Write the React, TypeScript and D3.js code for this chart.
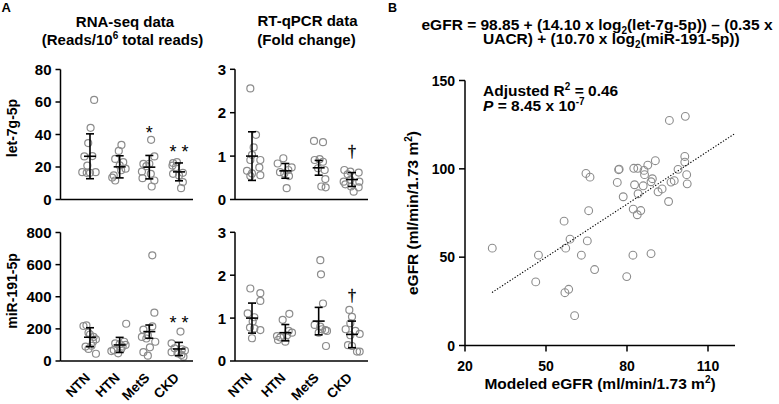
import React from "react";
import * as d3 from "d3";

const categories = ["NTN", "HTN", "MetS", "CKD"];

// Each point: [jitter offset as a fraction of category step, value]
const rnaLet7: [number, number][][] = [
  [[0.14, 61.3], [0.02, 44.1], [-0.06, 34.7], [-0.19, 26.5], [0.08, 26.7], [-0.09, 20.9], [-0.26, 16.8], [-0.11, 16.4], [0.0, 16.4], [0.19, 16.8]],
  [[0.06, 33.6], [-0.03, 29.9], [-0.15, 25.0], [0.12, 23.0], [0.2, 19.0], [0.05, 18.0], [-0.2, 14.8], [-0.25, 13.5], [-0.15, 11.7], [0.0, 21.0]],
  [[0.06, 36.7], [0.17, 26.5], [-0.2, 21.9], [-0.1, 20.5], [0.0, 22.0], [-0.25, 17.2], [0.05, 15.8], [-0.23, 13.1], [0.17, 11.7], [0.08, 8.0]],
  [[-0.2, 22.4], [-0.07, 23.0], [-0.22, 20.9], [-0.1, 20.0], [-0.2, 15.8], [0.13, 16.4], [0.0, 14.8], [0.13, 10.7], [0.07, 7.0]],
];
const rnaLet7Mean = [26.6, 20.1, 19.9, 17.0];
const rnaLet7SD = [13.8, 6.8, 7.2, 5.5];

const rnaMiR: [number, number][][] = [
  [[-0.22, 218], [-0.12, 222], [-0.05, 176], [0.12, 150], [0.2, 135], [-0.15, 90], [0.05, 95], [0.2, 45], [-0.05, 75], [0.1, 120], [0.0, 165]],
  [[0.22, 232], [-0.15, 110], [0.0, 105], [0.15, 120], [-0.2, 68], [-0.05, 48], [0.1, 90], [-0.28, 62], [0.05, 75], [0.2, 100]],
  [[0.1, 658], [0.17, 301], [0.1, 215], [-0.2, 195], [-0.25, 150], [-0.1, 140], [0.2, 120], [-0.05, 160], [-0.2, 55], [-0.05, 33], [0.02, 85]],
  [[0.05, 183], [-0.25, 110], [-0.15, 79], [0.1, 73], [-0.05, 48], [0.08, 38], [-0.25, 55], [0.15, 27], [0.2, 65]],
];
const rnaMiRMean = [148, 100, 183, 75];
const rnaMiRSD = [59, 47, 41, 41];

const pcrLet7: [number, number][][] = [
  [[-0.05, 2.56], [0.12, 1.49], [0.05, 1.2], [0.0, 1.03], [0.25, 0.91], [-0.05, 0.91], [0.22, 0.74], [-0.15, 0.66], [0.0, 0.6], [0.25, 0.56], [-0.05, 0.54]],
  [[-0.06, 0.95], [-0.23, 0.83], [0.19, 0.74], [0.09, 0.68], [-0.16, 0.63], [-0.03, 0.6], [0.11, 0.54], [0.04, 0.26]],
  [[-0.14, 1.35], [0.13, 1.32], [-0.12, 0.91], [0.03, 0.93], [0.13, 0.87], [0.18, 0.68], [-0.02, 0.72], [0.2, 0.47], [0.08, 0.3], [0.21, 0.28]],
  [[-0.23, 0.68], [-0.05, 0.64], [-0.13, 0.58], [0.2, 0.62], [-0.25, 0.41], [-0.05, 0.45], [0.22, 0.41], [-0.03, 0.3], [0.05, 0.18], [0.2, 0.28], [-0.2, 0.35]],
];
const pcrLet7Mean = [1.0, 0.66, 0.73, 0.46];
const pcrLet7SD = [0.56, 0.17, 0.17, 0.16];

const pcrMiR: [number, number][][] = [
  [[-0.05, 1.69], [0.25, 1.58], [0.25, 1.4], [-0.13, 1.11], [0.07, 1.02], [0.02, 0.92], [-0.06, 0.78], [0.07, 0.76], [0.25, 0.72], [0.0, 0.53]],
  [[0.12, 1.1], [-0.08, 0.96], [0.2, 0.66], [-0.25, 0.58], [-0.22, 0.49], [0.05, 0.6], [0.0, 0.45], [-0.15, 0.55], [0.1, 0.7]],
  [[0.05, 2.35], [0.07, 2.02], [0.13, 1.34], [-0.12, 0.84], [0.05, 0.8], [0.2, 0.72], [0.0, 0.66], [0.1, 0.74], [0.25, 0.7], [0.22, 0.35]],
  [[-0.08, 1.19], [0.0, 1.03], [-0.05, 0.88], [-0.19, 0.74], [0.23, 0.63], [0.1, 0.7], [-0.05, 0.6], [-0.12, 0.37], [0.0, 0.35], [0.15, 0.22], [0.23, 0.22]],
];
const pcrMiRMean = [1.0, 0.66, 0.93, 0.62];
const pcrMiRSD = [0.35, 0.19, 0.32, 0.31];

const rnaLet7Ticks = [0, 20, 40, 60, 80];
const rnaMiRTicks = [0, 200, 400, 600, 800];
const pcrTicks = [0, 1, 2, 3];

// significance marks: [category, value at glyph centre, glyph]
type Mark = [string, number, string];
const rnaLet7Marks: Mark[] = [["MetS", 43.5, "*"], ["CKD", 32, "* *"]];
const rnaMiRMarks: Mark[] = [["CKD", 266, "* *"]];
const pcrLet7Marks: Mark[] = [["CKD", 1.08, "†"]];
const pcrMiRMarks: Mark[] = [["CKD", 1.52, "†"]];

const modeledEGFR = [30.1, 46.2, 47.2, 56.7, 58.9, 57.3, 57.0, 58.4, 60.6, 63.1, 64.8, 66.3, 65.8, 65.3, 68.0, 76.4, 76.9, 77.1, 78.6, 79.9, 82.2, 82.3, 82.5, 82.8, 84.0, 83.8, 84.1, 85.1, 86.3, 86.5, 86.0, 87.7, 88.9, 89.4, 88.9, 90.5, 91.5, 93.0, 95.4, 96.3, 97.5, 98.9, 101.4, 101.4, 102.1, 102.3, 95.7, 101.6];
const observedEGFR = [55.1, 36.0, 51.1, 70.4, 60.2, 55.1, 29.9, 31.8, 16.9, 51.1, 97.4, 95.3, 76.3, 59.2, 43.0, 92.3, 99.5, 99.8, 84.2, 39.0, 51.1, 77.2, 100.3, 91.0, 100.3, 74.0, 85.9, 76.4, 99.1, 96.7, 90.4, 102.1, 92.7, 94.4, 52.0, 104.6, 87.0, 88.6, 81.5, 92.5, 93.3, 99.7, 107.0, 103.8, 96.7, 91.5, 127.4, 129.7];
const scatterXTicks = [20, 50, 80, 110];
const scatterYTicks = [0, 50, 100, 150];
const fitIntercept = 0.0;
const fitSlope = 1.0;
const fitExtent = [30, 120];

const FONT = "'Liberation Sans', Arial, Helvetica, sans-serif";
const GREY = "#8c8c8c";

type PanelProps = {
  axisX: number;
  axisEnd: number;
  yBottom: number;
  yTop: number;
  maxV: number;
  ticks: number[];
  catRange: [number, number];
  groups: [number, number][][];
  means: number[];
  sds: number[];
  marks: Mark[];
  showX: boolean;
  yLabel?: string;
  yLabelY?: number;
};

function DotPanel(p: PanelProps) {
  const y = d3.scaleLinear().domain([0, p.maxV]).range([p.yBottom, p.yTop]);
  const x = d3.scalePoint<string>().domain(categories).range(p.catRange);
  const step = x.step();
  return (
    <g>
      {p.groups.map((g, gi) =>
        g.map(([off, v], i) => (
          <circle key={`${gi}-${i}`} cx={(x(categories[gi]) as number) + off * step} cy={y(v)} r={3.5}
            fill="none" stroke={GREY} strokeWidth={1.2} />
        ))
      )}
      {p.means.map((m, i) => {
        const cx = x(categories[i]) as number;
        const hi = y(m + p.sds[i]);
        const lo = y(Math.max(0, m - p.sds[i]));
        return (
          <g key={i} stroke="#000" strokeWidth={1.6} fill="none">
            <line x1={cx} x2={cx} y1={hi} y2={lo} />
            <line x1={cx - 4} x2={cx + 4} y1={hi} y2={hi} />
            <line x1={cx - 4} x2={cx + 4} y1={lo} y2={lo} />
            <line x1={cx - 6} x2={cx + 6} y1={y(m)} y2={y(m)} />
          </g>
        );
      })}
      <line x1={p.axisX} x2={p.axisX} y1={p.yTop} y2={p.yBottom} stroke="#000" strokeWidth={1.5} />
      <line x1={p.axisX} x2={p.axisEnd} y1={p.yBottom} y2={p.yBottom} stroke="#000" strokeWidth={1.5} />
      {p.ticks.map((t) => (
        <g key={t}>
          <line x1={p.axisX - 5} x2={p.axisX} y1={y(t)} y2={y(t)} stroke="#000" strokeWidth={1.5} />
          <text x={p.axisX - 9} y={y(t)} dy="0.36em" textAnchor="end" fontSize={15} fontWeight="bold">{t}</text>
        </g>
      ))}
      {p.marks.map(([c, v, s], i) => {
        const dagger = s === "†";
        const fs = dagger ? 16 : 18;
        const base = dagger ? y(v) + 0.3 * fs : y(v) + 0.58 * fs;
        return (
          <text key={i} x={x(c) as number} y={base} textAnchor="middle" fontSize={fs} fill="#000"
            stroke={dagger ? "#000" : "none"} strokeWidth={dagger ? 0.35 : 0}
            fontFamily={dagger ? "'Liberation Serif', 'DejaVu Serif', serif" : FONT}>{s}</text>
        );
      })}
      {p.showX && categories.map((c) => (
        <text key={c} transform={`translate(${(x(c) as number) + 1},${p.yBottom + 17.5}) rotate(-45)`}
          textAnchor="end" fontSize={13.5} fontWeight="bold">{c}</text>
      ))}
      {p.yLabel && (
        <text transform={`translate(17,${p.yLabelY}) rotate(-90)`} textAnchor="middle"
          fontSize={14} fontWeight="bold">{p.yLabel}</text>
      )}
    </g>
  );
}

function Scatter() {
  const x = d3.scaleLinear().domain([20, 120]).range([465, 735]);
  const y = d3.scaleLinear().domain([0, 150]).range([345.5, 80.5]);
  const fitLine = d3.line<number>().x((d) => x(d)).y((d) => y(fitIntercept + fitSlope * d));
  return (
    <g>
      {modeledEGFR.map((m, i) => (
        <circle key={i} cx={x(m)} cy={y(observedEGFR[i])} r={3.9} fill="none" stroke={GREY} strokeWidth={1.1} />
      ))}
      <path d={fitLine(fitExtent) || ""} stroke="#000" strokeWidth={1.1} strokeDasharray="1.3,1.7" fill="none" />
      <line x1={465} x2={465} y1={y(150)} y2={y(0)} stroke="#000" strokeWidth={1.5} />
      <line x1={465} x2={x(120)} y1={y(0)} y2={y(0)} stroke="#000" strokeWidth={1.5} />
      {scatterYTicks.map((t) => (
        <g key={t}>
          <line x1={459} x2={465} y1={y(t)} y2={y(t)} stroke="#000" strokeWidth={1.5} />
          <text x={455} y={y(t)} dy="0.36em" textAnchor="end" fontSize={14} fontWeight="bold">{t}</text>
        </g>
      ))}
      {scatterXTicks.map((t) => (
        <g key={t}>
          <line x1={x(t)} x2={x(t)} y1={y(0)} y2={y(0) + 6} stroke="#000" strokeWidth={1.5} />
          <text x={x(t)} y={370.5} textAnchor="middle" fontSize={14} fontWeight="bold">{t}</text>
        </g>
      ))}
      <text x={600} y={389} textAnchor="middle" fontSize={15.5} fontWeight="bold">
        Modeled eGFR (ml/min/1.73 m<tspan dy={-6} fontSize={10}>2</tspan><tspan dy={6}>)</tspan>
      </text>
      <text transform={`translate(418,${(y(0) + y(150)) / 2}) rotate(-90)`} textAnchor="middle" fontSize={15.5} fontWeight="bold">
        eGFR (ml/min/1.73 m<tspan dy={-6} fontSize={10}>2</tspan><tspan dy={6}>)</tspan>
      </text>
      <text x={483} y={96} fontSize={15.5} fontWeight="bold">
        Adjusted R<tspan dy={-6} fontSize={10}>2</tspan><tspan dy={6}> = 0.46</tspan>
      </text>
      <text x={483} y={111} fontSize={15.5} fontWeight="bold">
        <tspan fontStyle="italic">P</tspan> = 8.45 x 10<tspan dy={-6} fontSize={10}>-7</tspan>
      </text>
      <text x={421.5} y={29.6} fontSize={15.5} fontWeight="bold">
        eGFR = 98.85 + (14.10 x log<tspan dy={4} fontSize={10}>2</tspan><tspan dy={-4}>(let-7g-5p)) – (0.35 x</tspan>
      </text>
      <text x={483} y={43.5} fontSize={15.5} fontWeight="bold">
        UACR) + (10.70 x log<tspan dy={4} fontSize={10}>2</tspan><tspan dy={-4}>(miR-191-5p))</tspan>
      </text>
    </g>
  );
}

export default function App() {
  return (
    <svg width={779} height={404} style={{ position: "absolute", left: 0, top: 0, fontFamily: FONT }}
      fontFamily={FONT} fill="#000">
      <rect width={779} height={404} fill="#fff" />
      <text x={1.5} y={12.3} fontSize={13} fontWeight="bold">A</text>
      <text x={388} y={12} fontSize={12.5} fontWeight="bold">B</text>
      <text x={125} y={26.5} textAnchor="middle" fontSize={15} fontWeight="bold">RNA-seq data</text>
      <text x={122.5} y={45} textAnchor="middle" fontSize={15} fontWeight="bold">
        (Reads/10<tspan dy={-6} fontSize={10}>6</tspan><tspan dy={6}> total reads)</tspan>
      </text>
      <text x={307.5} y={26} textAnchor="middle" fontSize={15} fontWeight="bold">RT-qPCR data</text>
      <text x={306.5} y={44.5} textAnchor="middle" fontSize={15} fontWeight="bold">(Fold change)</text>

      <DotPanel axisX={60.5} axisEnd={193} yBottom={199.5} yTop={69.5} maxV={80} ticks={rnaLet7Ticks}
        catRange={[90, 179]} groups={rnaLet7} means={rnaLet7Mean} sds={rnaLet7SD} marks={rnaLet7Marks}
        showX={false} yLabel="let-7g-5p" yLabelY={128} />
      <DotPanel axisX={60.5} axisEnd={193} yBottom={361} yTop={232.5} maxV={800} ticks={rnaMiRTicks}
        catRange={[90, 179]} groups={rnaMiR} means={rnaMiRMean} sds={rnaMiRSD} marks={rnaMiRMarks}
        showX={true} yLabel="miR-191-5p" yLabelY={291} />
      <DotPanel axisX={235} axisEnd={368} yBottom={199.5} yTop={69.3} maxV={3} ticks={pcrTicks}
        catRange={[252, 352]} groups={pcrLet7} means={pcrLet7Mean} sds={pcrLet7SD} marks={pcrLet7Marks}
        showX={false} />
      <DotPanel axisX={235} axisEnd={368} yBottom={361} yTop={232.3} maxV={3} ticks={pcrTicks}
        catRange={[252, 352]} groups={pcrMiR} means={pcrMiRMean} sds={pcrMiRSD} marks={pcrMiRMarks}
        showX={true} />
      <Scatter />
    </svg>
  );
}
